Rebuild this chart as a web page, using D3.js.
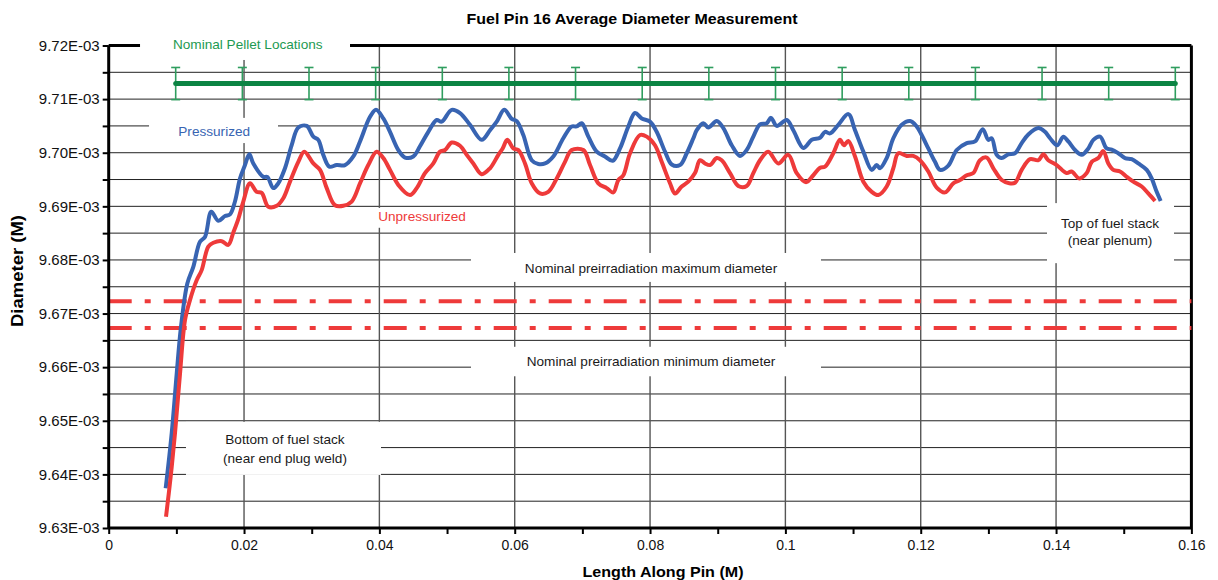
<!DOCTYPE html>
<html><head><meta charset="utf-8">
<script src="https://cdn.jsdelivr.net/npm/d3@7"></script>
<style>
body{margin:0;background:#fff}
text{font-family:"Liberation Sans",Arial,Helvetica,sans-serif}
</style>
</head><body>
<svg id="c" width="1218" height="580"></svg>
<script>
// ---------- DATA (diameter in units of 1E-03 m, length in m) ----------
const title = "Fuel Pin 16 Average Diameter Measurement";
const xTitle = "Length Along Pin (M)";
const yTitle = "Diameter (M)";
const xTickValues = [0, 0.02, 0.04, 0.06, 0.08, 0.1, 0.12, 0.14, 0.16];
const yTickValues = [9.63, 9.64, 9.65, 9.66, 9.67, 9.68, 9.69, 9.70, 9.71, 9.72];

const pelletX = [0.00990, 0.01975, 0.02960, 0.03945, 0.04930, 0.05914, 0.06899, 0.07884,
                 0.08869, 0.09854, 0.10839, 0.11824, 0.12808, 0.13793, 0.14778, 0.15762];
const pelletDiameter = 9.7129;
const pelletErr = 0.0030;

const nominalMax = 9.6723;
const nominalMin = 9.6673;

const pressurized = [
[0.00842,9.6374],[0.00931,9.6477],[0.01005,9.6588],[0.01068,9.6675],[0.01162,9.6756],[0.01250,9.6787],
[0.01349,9.6834],[0.01423,9.6843],[0.01516,9.6890],[0.01620,9.6873],[0.01719,9.6882],[0.01793,9.6885],
[0.01866,9.6909],[0.01940,9.6952],[0.02014,9.6977],[0.02078,9.6997],[0.02137,9.6980],[0.02285,9.6955],
[0.02344,9.6955],[0.02432,9.6934],[0.02506,9.6943],[0.02605,9.6971],[0.02704,9.7014],[0.02802,9.7047],
[0.02926,9.7050],[0.03024,9.7030],[0.03097,9.7024],[0.03171,9.6996],[0.03260,9.6974],[0.03369,9.6977],
[0.03492,9.6977],[0.03615,9.6993],[0.03714,9.7021],[0.03862,9.7067],[0.03950,9.7080],[0.04058,9.7064],
[0.04157,9.7039],[0.04280,9.7005],[0.04379,9.6991],[0.04501,9.6993],[0.04600,9.7012],[0.04723,9.7039],
[0.04847,9.7061],[0.04921,9.7058],[0.05069,9.7080],[0.05192,9.7074],[0.05339,9.7052],[0.05512,9.7024],
[0.05635,9.7042],[0.05734,9.7058],[0.05846,9.7080],[0.05956,9.7063],[0.06030,9.7059],[0.06127,9.7033],
[0.06251,9.6986],[0.06349,9.6979],[0.06448,9.6980],[0.06570,9.6993],[0.06718,9.7027],[0.06842,9.7049],
[0.06916,9.7049],[0.06990,9.7055],[0.07088,9.7030],[0.07212,9.7002],[0.07334,9.6993],[0.07448,9.6985],
[0.07556,9.7008],[0.07679,9.7049],[0.07778,9.7074],[0.07877,9.7064],[0.07999,9.7058],[0.08098,9.7039],
[0.08221,9.7002],[0.08320,9.6978],[0.08443,9.6977],[0.08542,9.6999],[0.08640,9.7027],[0.08690,9.7042],
[0.08787,9.7055],[0.08861,9.7047],[0.08985,9.7059],[0.09083,9.7046],[0.09207,9.7014],[0.09329,9.6994],
[0.09428,9.7005],[0.09526,9.7030],[0.09625,9.7053],[0.09724,9.7055],[0.09788,9.7065],[0.09872,9.7050],
[0.10020,9.7061],[0.10117,9.7042],[0.10265,9.7009],[0.10389,9.7024],[0.10512,9.7028],[0.10586,9.7039],
[0.10659,9.7036],[0.10782,9.7052],[0.10930,9.7072],[0.11029,9.7042],[0.11152,9.7002],[0.11276,9.6968],
[0.11349,9.6977],[0.11398,9.6971],[0.11497,9.6990],[0.11595,9.7027],[0.11719,9.7052],[0.11842,9.7059],
[0.11940,9.7049],[0.12014,9.7033],[0.12112,9.7008],[0.12211,9.6983],[0.12285,9.6968],[0.12408,9.6976],
[0.12532,9.7005],[0.12680,9.7018],[0.12802,9.7021],[0.12916,9.7044],[0.12999,9.7024],[0.13049,9.7027],
[0.13123,9.6996],[0.13197,9.6990],[0.13294,9.6997],[0.13393,9.6999],[0.13492,9.7018],[0.13590,9.7034],
[0.13738,9.7046],[0.13837,9.7039],[0.13911,9.7027],[0.14019,9.7014],[0.14107,9.7030],[0.14181,9.7021],
[0.14280,9.7005],[0.14379,9.6996],[0.14477,9.7008],[0.14551,9.7024],[0.14650,9.7030],[0.14748,9.7008],
[0.14822,9.7006],[0.14920,9.6999],[0.15019,9.6990],[0.15118,9.6988],[0.15215,9.6980],[0.15340,9.6968],
[0.15413,9.6952],[0.15487,9.6927],[0.15546,9.6910]
];

const unpressurized = [
[0.00847,9.6321],[0.00916,9.6396],[0.00980,9.6477],[0.01054,9.6588],[0.01128,9.6688],[0.01201,9.6725],
[0.01300,9.6762],[0.01374,9.6781],[0.01472,9.6825],[0.01546,9.6832],[0.01670,9.6835],[0.01767,9.6828],
[0.01841,9.6851],[0.01915,9.6876],[0.01989,9.6909],[0.02088,9.6943],[0.02187,9.6927],[0.02261,9.6925],
[0.02359,9.6899],[0.02483,9.6901],[0.02580,9.6915],[0.02679,9.6946],[0.02802,9.6983],[0.02891,9.7002],
[0.03024,9.6980],[0.03123,9.6968],[0.03222,9.6934],[0.03344,9.6902],[0.03467,9.6901],[0.03591,9.6909],
[0.03714,9.6943],[0.03836,9.6977],[0.03960,9.7002],[0.04058,9.6990],[0.04157,9.6968],[0.04280,9.6940],
[0.04452,9.6921],[0.04552,9.6934],[0.04674,9.6962],[0.04797,9.6980],[0.04896,9.7002],[0.04970,9.7005],
[0.05069,9.7019],[0.05192,9.7013],[0.05291,9.6996],[0.05388,9.6980],[0.05512,9.6960],[0.05635,9.6971],
[0.05758,9.6996],[0.05822,9.7008],[0.05891,9.7024],[0.05979,9.7008],[0.06053,9.7005],[0.06152,9.6980],
[0.06251,9.6943],[0.06374,9.6924],[0.06496,9.6927],[0.06621,9.6952],[0.06743,9.6983],[0.06842,9.7005],
[0.07014,9.7005],[0.07113,9.6977],[0.07235,9.6943],[0.07359,9.6934],[0.07457,9.6926],[0.07531,9.6949],
[0.07605,9.6958],[0.07704,9.6999],[0.07852,9.7033],[0.07951,9.7030],[0.08073,9.7014],[0.08172,9.6983],
[0.08295,9.6943],[0.08369,9.6924],[0.08468,9.6937],[0.08565,9.6946],[0.08664,9.6962],[0.08738,9.6986],
[0.08812,9.6980],[0.08886,9.6977],[0.08985,9.6990],[0.09059,9.6986],[0.09182,9.6962],[0.09304,9.6938],
[0.09428,9.6938],[0.09526,9.6962],[0.09625,9.6986],[0.09747,9.7002],[0.09895,9.6980],[0.10043,9.6996],
[0.10167,9.6962],[0.10305,9.6945],[0.10413,9.6958],[0.10512,9.6972],[0.10586,9.6974],[0.10708,9.6999],
[0.10807,9.7024],[0.10866,9.7014],[0.10930,9.7022],[0.11029,9.6993],[0.11152,9.6946],[0.11276,9.6927],
[0.11373,9.6921],[0.11497,9.6937],[0.11595,9.6971],[0.11669,9.6999],[0.11793,9.6994],[0.11890,9.6994],
[0.11989,9.6986],[0.12112,9.6965],[0.12236,9.6935],[0.12359,9.6926],[0.12481,9.6943],[0.12580,9.6949],
[0.12680,9.6958],[0.12777,9.6962],[0.12876,9.6986],[0.12975,9.6991],[0.13073,9.6971],[0.13197,9.6949],
[0.13309,9.6943],[0.13393,9.6944],[0.13492,9.6968],[0.13615,9.6988],[0.13738,9.6986],[0.13811,9.6997],
[0.13885,9.6986],[0.14009,9.6977],[0.14156,9.6962],[0.14230,9.6965],[0.14343,9.6952],[0.14453,9.6962],
[0.14527,9.6983],[0.14624,9.6990],[0.14698,9.7003],[0.14772,9.6980],[0.14846,9.6968],[0.14945,9.6965],
[0.15044,9.6955],[0.15141,9.6946],[0.15266,9.6937],[0.15363,9.6924],[0.15462,9.6910]
];

// ---------- LAYOUT ----------
const W = 1218, H = 580;
const mL = 108.7, mR = 1191.4, mT = 45.5, mB = 528;
const svg = d3.select("#c");
svg.append("rect").attr("width", W).attr("height", H).attr("fill", "#fff");

const x = d3.scaleLinear().domain([0, 0.16]).range([mL, mR]);
const y = d3.scaleLinear().domain([9.63, 9.72]).range([mB, mT]);

const C = {
  blue: "#3864b2", red: "#ee3a3a", green: "#0b8443", greenLight: "#2f9e5f",
  greenText: "#1d9a52", grid: "#222", vgrid: "#555"
};

// horizontal grid lines at every 0.005
const yMinor = y.ticks(18);
svg.append("g").selectAll("line").data(yMinor.filter(v => v > 9.6301 && v < 9.7199))
  .join("line")
  .attr("x1", mL).attr("x2", mR)
  .attr("y1", d => y(d)).attr("y2", d => y(d))
  .attr("stroke", C.grid).attr("stroke-width", 1);

// vertical grid lines
svg.append("g").selectAll("line").data(xTickValues.filter(v => v > 0 && v < 0.16))
  .join("line")
  .attr("x1", d => x(d)).attr("x2", d => x(d))
  .attr("y1", mT).attr("y2", mB)
  .attr("stroke", C.vgrid).attr("stroke-width", 1.4);

// frame: top and right border
svg.append("line").attr("x1", mL).attr("x2", mR).attr("y1", mT).attr("y2", mT)
  .attr("stroke", "#000").attr("stroke-width", 3);
svg.append("line").attr("x1", mR).attr("x2", mR).attr("y1", mT).attr("y2", mB)
  .attr("stroke", "#000").attr("stroke-width", 3);

// annotation boxes (white background covering grid) and texts
const annotations = [
  {lines: ["Nominal Pellet Locations"], color: C.greenText, box: [0.00463, 0.03566, 9.7218, 9.7173], tx: 0.02055, ty: [9.7194]},
  {lines: ["Pressurized"], color: C.blue, box: [0.00596, 0.02502, 9.7065, 9.7018], tx: 0.01559, ty: [9.7032]},
  {lines: ["Unpressurized"], color: C.red, box: [0.03891, 0.05369, 9.6897, 9.6860], tx: 0.04630, ty: [9.6872]},
  {lines: ["Nominal preirradiation maximum diameter"], color: "#1a1a1a", box: [0.05354, 0.10526, 9.6813, 9.6759], tx: 0.08014, ty: [9.6776]},
  {lines: ["Nominal preirradiation minimum diameter"], color: "#1a1a1a", box: [0.05354, 0.10526, 9.6638, 9.6583], tx: 0.08014, ty: [9.6603]},
  {lines: ["Top of fuel stack", "(near plenum)"], color: "#1a1a1a", box: [0.13866, 0.15743, 9.6906, 9.6794], tx: 0.14797, ty: [9.6860, 9.6827]},
  {lines: ["Bottom of fuel stack", "(near end plug weld)"], color: "#1a1a1a", box: [0.01142, 0.04024, 9.6498, 9.6399], tx: 0.02605, ty: [9.6456, 9.6422]}
];

const ag = svg.append("g");
annotations.forEach(a => {
  ag.append("rect")
    .attr("x", x(a.box[0])).attr("width", x(a.box[1]) - x(a.box[0]))
    .attr("y", y(a.box[2])).attr("height", y(a.box[3]) - y(a.box[2]))
    .attr("fill", "#fff");
  a.lines.forEach((t, i) => {
    ag.append("text").attr("x", x(a.tx)).attr("y", y(a.ty[i]))
      .attr("text-anchor", "middle").attr("font-size", 13.6)
      .attr("fill", a.color).text(t);
  });
});

// nominal dash-dot lines
svg.append("g").selectAll("line").data([nominalMax, nominalMin]).join("line")
  .attr("x1", mL).attr("x2", mR)
  .attr("y1", d => y(d)).attr("y2", d => y(d))
  .attr("stroke", C.red).attr("stroke-width", 4)
  .attr("stroke-dasharray", "23,13,6,13");

// curves
const line = d3.line().x(d => x(d[0])).y(d => y(d[1])).curve(d3.curveCatmullRom.alpha(0.5));
svg.append("path").datum(pressurized).attr("d", line)
  .attr("fill", "none").attr("stroke", C.blue).attr("stroke-width", 4)
  .attr("stroke-linejoin", "round").attr("stroke-linecap", "butt");
svg.append("path").datum(unpressurized).attr("d", line)
  .attr("fill", "none").attr("stroke", C.red).attr("stroke-width", 4)
  .attr("stroke-linejoin", "round").attr("stroke-linecap", "butt");

// pellet locations
const pg = svg.append("g");
pg.selectAll("line.eb").data(pelletX).join("line").attr("class", "eb")
  .attr("x1", d => x(d)).attr("x2", d => x(d))
  .attr("y1", y(pelletDiameter + pelletErr)).attr("y2", y(pelletDiameter - pelletErr))
  .attr("stroke", C.greenLight).attr("stroke-width", 1.6);
[pelletDiameter + pelletErr, pelletDiameter - pelletErr].forEach(v => {
  pg.append("g").selectAll("line").data(pelletX).join("line")
    .attr("x1", d => x(d) - 4.5).attr("x2", d => x(d) + 4.5)
    .attr("y1", y(v)).attr("y2", y(v))
    .attr("stroke", C.greenLight).attr("stroke-width", 1.6);
});
pg.append("line")
  .attr("x1", x(d3.min(pelletX))).attr("x2", x(d3.max(pelletX)))
  .attr("y1", y(pelletDiameter)).attr("y2", y(pelletDiameter))
  .attr("stroke", C.green).attr("stroke-width", 5).attr("stroke-linecap", "round");

// axes
const yAxis = d3.axisLeft(y).tickValues(yMinor).tickSize(6)
  .tickFormat(d => yTickValues.some(v => Math.abs(v - d) < 1e-6) ? d.toFixed(2) + "E-03" : "");
const gy = svg.append("g").attr("transform", `translate(${mL},0)`).call(yAxis);
gy.select(".domain").attr("stroke-width", 3).attr("d", `M0,${mT}V${mB}`);
gy.selectAll(".tick line").attr("stroke-width", 2);
gy.selectAll("text").attr("font-size", 15).attr("fill", "#111").attr("x", -9);

const xMinor = x.ticks(16);
const xAxis = d3.axisBottom(x).tickValues(xMinor).tickSize(6)
  .tickFormat(d => xTickValues.some(v => Math.abs(v - d) < 1e-9) ? String(+d.toFixed(2)) : "");
const gx = svg.append("g").attr("transform", `translate(0,${mB})`).call(xAxis);
gx.select(".domain").attr("stroke-width", 3).attr("d", `M${mL},0H${mR}`);
gx.selectAll(".tick line").attr("stroke-width", 2);
gx.selectAll("text").attr("font-size", 14).attr("fill", "#111").attr("y", 12);

// titles (condensed bold, as in the reference)
svg.append("text").attr("x", 632).attr("y", 24).attr("text-anchor", "middle")
  .attr("font-size", 14.5).attr("font-weight", "bold")
  .attr("textLength", 331).attr("lengthAdjust", "spacingAndGlyphs").text(title);
svg.append("text").attr("x", 663).attr("y", 577).attr("text-anchor", "middle")
  .attr("font-size", 15).attr("font-weight", "bold")
  .attr("textLength", 161).attr("lengthAdjust", "spacingAndGlyphs").text(xTitle);
svg.append("text").attr("transform", "translate(23,271) rotate(-90)").attr("text-anchor", "middle")
  .attr("font-size", 16).attr("font-weight", "bold")
  .attr("textLength", 112).attr("lengthAdjust", "spacingAndGlyphs").text(yTitle);
</script>
</body></html>
